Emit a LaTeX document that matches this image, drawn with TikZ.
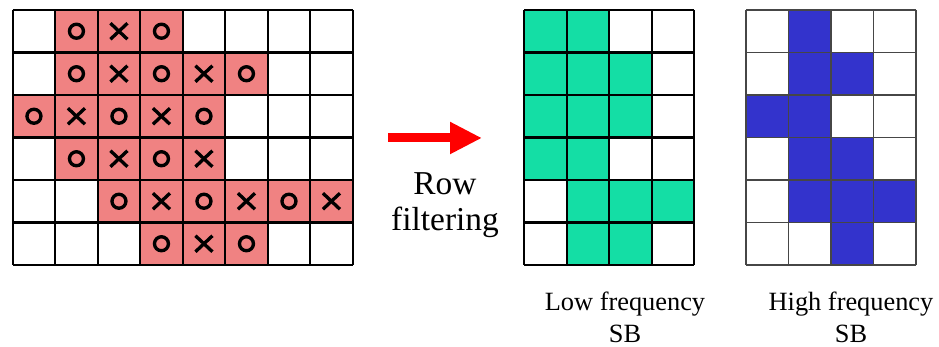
\documentclass[tikz,border=0pt]{standalone}
\usepackage{fontspec}
\setmainfont{Liberation Serif}
\usepackage{xcolor}
\definecolor{cellred}{RGB}{240,130,130}
\definecolor{cellgreen}{RGB}{20,222,165}
\definecolor{cellblue}{RGB}{51,51,204}
\definecolor{arrowred}{RGB}{255,0,0}
\definecolor{gridgray}{RGB}{70,70,70}
\usepackage{tikz}
\usetikzlibrary{arrows.meta, positioning}

\tikzset{
  gridline/.style={black, line width=1.3pt},
  gridlight/.style={gridgray, line width=1pt},
  xo/.style={black, line width=1.9pt},
  bigtext/.style={font=\fontsize{19}{20.5}\selectfont, align=center},
  sbtext/.style={font=\fontsize{15}{18.2}\selectfont, align=center}
}

\begin{document}
\begin{tikzpicture}
  \useasboundingbox (0,0) rectangle (18.78,6.94);

  % Input block (8 x 6)
  \begin{scope}[shift={(0.254,6.74)}]
    \foreach \r/\cs in {1/{2,3,4}, 2/{2,3,4,5,6}, 3/{1,2,3,4,5}, 4/{2,3,4,5}, 5/{3,4,5,6,7,8}, 6/{4,5,6}} {
      \foreach \c in \cs {
        \fill[cellred] ({(\c-1)*0.85},{-(\r-1)*0.85}) rectangle ({\c*0.85},{-\r*0.85});
      }
    }
    \foreach \c in {0,...,8} \draw[gridline] ({\c*0.85},0) -- ({\c*0.85},-5.1);
    \foreach \r in {0,...,6} \draw[gridline] (0,{-\r*0.85}) -- (6.8,{-\r*0.85});
    % O marks
    \foreach \r/\c in {1/2, 1/4, 2/2, 2/4, 2/6, 3/1, 3/3, 3/5, 4/2, 4/4, 5/3, 5/5, 5/7, 6/4, 6/6} {
      \draw[xo] ({(\c-0.5)*0.85},{-(\r-0.5)*0.85}) circle (0.14);
    }
    % X marks
    \foreach \r/\c in {1/3, 2/3, 2/5, 3/2, 3/4, 4/3, 4/5, 5/4, 5/6, 5/8, 6/5} {
      \draw[xo] ({(\c-0.5)*0.85-0.17},{-(\r-0.5)*0.85-0.16}) -- ++(0.34,0.32);
      \draw[xo] ({(\c-0.5)*0.85-0.17},{-(\r-0.5)*0.85+0.16}) -- ++(0.34,-0.32);
    }
  \end{scope}

  % Arrow and caption
  \coordinate (arrS) at (7.76,4.18);
  \coordinate (arrE) at (9.64,4.18);
  \draw[arrowred, line width=0.18cm, -{Triangle[length=0.64cm, width=0.6cm]}] (arrS) -- (arrE);
  \node[bigtext] (rowlbl) at (8.9,2.84) {Row\\filtering};

  % Low frequency subband (4 x 6)
  \begin{scope}[shift={(10.486,6.74)}]
    \foreach \r/\cs in {1/{1,2}, 2/{1,2,3}, 3/{1,2,3}, 4/{1,2}, 5/{2,3,4}, 6/{2,3}} {
      \foreach \c in \cs {
        \fill[cellgreen] ({(\c-1)*0.85},{-(\r-1)*0.85}) rectangle ({\c*0.85},{-\r*0.85});
      }
    }
    \foreach \c in {0,...,4} \draw[gridline] ({\c*0.85},0) -- ({\c*0.85},-5.1);
    \foreach \r in {0,...,6} \draw[gridline] (0,{-\r*0.85}) -- (3.4,{-\r*0.85});
  \end{scope}
  \node[sbtext] (lowlbl) at (12.5,0.6) {Low frequency\\SB};

  % High frequency subband (4 x 6)
  \begin{scope}[shift={(14.92,6.74)}]
    \foreach \r/\cs in {1/{2}, 2/{2,3}, 3/{1,2}, 4/{2,3}, 5/{2,3,4}, 6/{3}} {
      \foreach \c in \cs {
        \fill[cellblue] ({(\c-1)*0.85},{-(\r-1)*0.85}) rectangle ({\c*0.85},{-\r*0.85});
      }
    }
    \foreach \c in {0,...,4} \draw[gridlight] ({\c*0.85},0) -- ({\c*0.85},-5.1);
    \foreach \r in {0,...,6} \draw[gridlight] (0,{-\r*0.85}) -- (3.4,{-\r*0.85});
  \end{scope}
  \node[sbtext] (highlbl) at (17.02,0.6) {High frequency\\SB};
\end{tikzpicture}
\end{document}
